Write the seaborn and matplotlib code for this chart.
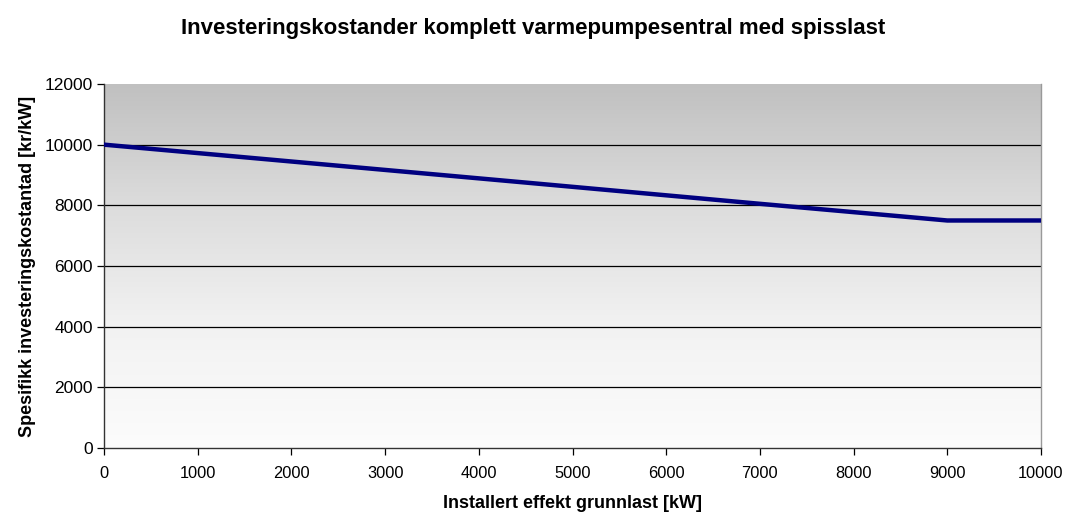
import numpy as np
import pandas as pd
import matplotlib
matplotlib.use("Agg")
import matplotlib.pyplot as plt
import seaborn as sns

# Installed base-load capacity (kW) and specific investment cost (kr/kW)
effekt_kw = [0, 4500, 7000, 9000, 10000]
kostnad_kr_per_kw = [10000, 8750, 8050, 7500, 7500]

x_ticks = list(range(0, 10001, 1000))
y_ticks = list(range(0, 12001, 2000))

title = "Investeringskostander komplett varmepumpesentral med spisslast"
x_label = "Installert effekt grunnlast [kW]"
y_label = "Spesifikk investeringskostantad [kr/kW]"

sns.set_theme(style="white")
plt.rcParams["font.family"] = ["Liberation Sans", "DejaVu Sans"]
plt.rcParams["text.color"] = "black"
plt.rcParams["axes.labelcolor"] = "black"

df = pd.DataFrame({"effekt": effekt_kw, "kostnad": kostnad_kr_per_kw})

fig = plt.figure(figsize=(10.68, 5.13), dpi=100)
ax = fig.add_axes([0.0974, 0.1267, 0.8773, 0.7096])

# Vertical grey-to-white gradient behind the plot
grad = np.linspace(0, 1, 256).reshape(-1, 1)
cmap = matplotlib.colors.LinearSegmentedColormap.from_list(
    "bg", ["#fcfcfc", "#f2f2f2", "#dcdcdc", "#c0c0c0"])
ax.imshow(grad, extent=[0, 1, 0, 1], transform=ax.transAxes, origin="lower",
          cmap=cmap, aspect="auto", zorder=0)

for yv in y_ticks[1:-1]:
    ax.axhline(yv, color="black", lw=0.9, zorder=1)

sns.lineplot(data=df, x="effekt", y="kostnad", ax=ax, color="#000080",
             lw=3.2, zorder=3)

ax.set_xlim(0, 10000)
ax.set_ylim(0, 12000)
ax.set_xticks(x_ticks)
ax.set_yticks(y_ticks)
ax.tick_params(axis="both", direction="out", length=5, width=0.9,
               color="black", labelcolor="black", pad=4)
ax.tick_params(axis="x", pad=8, labelsize=11.8)
ax.tick_params(axis="y", pad=3, labelsize=12.5)
ax.tick_params(left=True, bottom=True)

for side in ["left", "bottom"]:
    ax.spines[side].set_color("#333333")
    ax.spines[side].set_linewidth(1.0)
ax.spines["right"].set_color("#999999")
ax.spines["right"].set_linewidth(1.0)
ax.spines["top"].set_visible(False)

ax.set_xlabel(x_label, fontsize=13, fontweight="bold", labelpad=10)
ax.set_ylabel(y_label, fontsize=13, fontweight="bold", labelpad=6)
fig.text(0.499, 0.945, title, ha="center", va="center", fontsize=16,
         fontweight="bold")

fig.savefig("out.png", dpi=100)
